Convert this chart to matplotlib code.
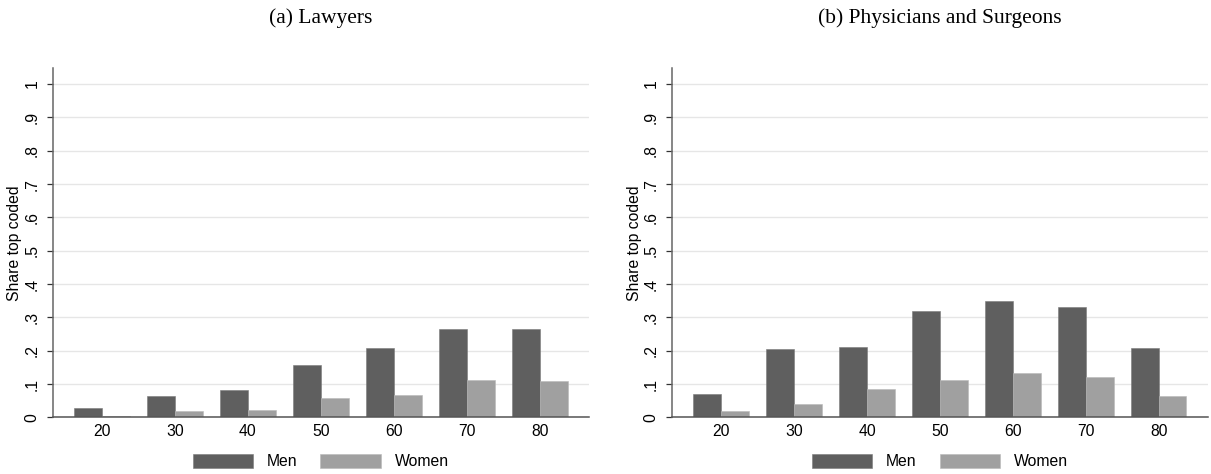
import numpy as np
import matplotlib
matplotlib.use('Agg')
import matplotlib.pyplot as plt
from matplotlib.patches import Patch

# ages (decade groups)
ages = ['20', '30', '40', '50', '60', '70', '80']

# share top coded, lawyers
law_men = [0.028, 0.063, 0.082, 0.158, 0.208, 0.265, 0.265]
law_women = [0.005, 0.018, 0.022, 0.058, 0.066, 0.111, 0.108]

# share top coded, physicians and surgeons
phys_men = [0.070, 0.205, 0.211, 0.319, 0.349, 0.331, 0.208]
phys_women = [0.020, 0.041, 0.085, 0.112, 0.134, 0.121, 0.064]

yticks = [0, .1, .2, .3, .4, .5, .6, .7, .8, .9, 1]
ytick_labels = ['0', '.1', '.2', '.3', '.4', '.5', '.6', '.7', '.8', '.9', '1']

men_col = '#5f5f5f'
women_col = '#a0a0a0'

plt.rcParams['font.family'] = ['Liberation Sans', 'DejaVu Sans']
fs = 11.3

fig = plt.figure(figsize=(12.11, 4.74), dpi=100)


def panel(rect, men, women, title):
	ax = fig.add_axes(rect)
	x = np.arange(len(ages))
	w = 0.38
	ax.bar(x - w / 2, men, w, color=men_col, edgecolor='#7a7a7a', linewidth=0.4, zorder=2)
	ax.bar(x + w / 2, women, w, color=women_col, edgecolor='#b8b8b8', linewidth=0.4, zorder=2)
	ax.set_xlim(-0.675, 6.675)
	ax.set_ylim(0, 1.048)
	ax.set_xticks(x)
	ax.set_xticklabels(ages, fontsize=fs)
	ax.tick_params(axis='x', length=0, pad=5)
	ax.set_yticks(yticks)
	ax.set_yticklabels(ytick_labels, fontsize=fs, rotation=90, va='center')
	ax.tick_params(axis='y', length=4.5, width=0.9, color='#333333', pad=5)
	ax.grid(axis='y', color='#e6e6e6', linewidth=1.0, zorder=0)
	ax.set_axisbelow(True)
	for s in ['top', 'right']:
		ax.spines[s].set_visible(False)
	ax.spines['left'].set_color('#666666')
	ax.spines['left'].set_linewidth(1.1)
	ax.spines['bottom'].set_color('#555555')
	ax.spines['bottom'].set_linewidth(1.1)
	ax.set_ylabel('Share top coded', fontsize=fs, labelpad=1.5)
	cx = rect[0] + rect[2] / 2
	fig.text(cx, 0.962, title, ha='center', va='center', fontsize=15.5,
			 family=['Liberation Serif', 'DejaVu Serif'])
	handles = [Patch(facecolor=men_col, edgecolor='#7a7a7a', linewidth=0.4, label='Men'),
			   Patch(facecolor=women_col, edgecolor='#b8b8b8', linewidth=0.4, label='Women')]
	fig.legend(handles=handles, loc='center', bbox_to_anchor=(cx, 0.026), ncol=2,
			   frameon=False, fontsize=fs, handlelength=3.85, handleheight=1.0,
			   handletextpad=0.9, columnspacing=1.45, borderaxespad=0, borderpad=0)
	return ax


panel([0.0435, 0.1192, 0.4429, 0.7373], law_men, law_women, '(a) Lawyers')
panel([0.5549, 0.1192, 0.4426, 0.7373], phys_men, phys_women, '(b) Physicians and Surgeons')

fig.savefig('out.png', dpi=100)
